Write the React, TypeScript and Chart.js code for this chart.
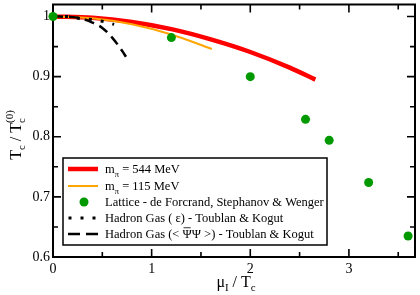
import React, { useEffect, useRef } from 'react';
import { Chart, registerables } from 'chart.js';
Chart.register(...registerables);

// ---- data ----
const RED_X = [0, 0.4, 0.8, 1.2, 1.6, 2.0, 2.4, 2.66];
const RED_Y = [1, 0.998, 0.991, 0.979, 0.962, 0.941, 0.915, 0.895];
const ORANGE_X = [0, 0.4, 0.8, 1.2, 1.61];
const ORANGE_Y = [1, 0.997, 0.987, 0.970, 0.946];
const LAT_X = [0, 1.2, 2.0, 2.56, 2.8, 3.2, 3.6];
const LAT_Y = [1, 0.965, 0.9, 0.829, 0.794, 0.724, 0.635];
const DOT_X = [0, 0.14, 0.26, 0.37, 0.5, 0.62];
const DOT_Y = [1, 1.0, 0.997, 0.9955, 0.992, 0.987];
const DASH_X = [0, 0.2, 0.3, 0.4, 0.5, 0.6, 0.7, 0.74];
const DASH_Y = [1, 0.999, 0.996, 0.99, 0.981, 0.965, 0.943, 0.933];

const X_LABEL_TICKS = [0, 1, 2, 3];
const Y_LABEL_TICKS = [0.6, 0.7, 0.8, 0.9, 1];
const X_MINOR = [0.5, 1.5, 2.5, 3.5];
const Y_MINOR = [0.65, 0.75, 0.85, 0.95];
const X_MIN = 0, X_MAX = 3.67, Y_MIN = 0.6, Y_MAX = 1.02;

const LEGEND_LABELS = [
  'm_{π} = 544 MeV',
  'm_{π} = 115 MeV',
  'Lattice - de Forcrand, Stephanov & Wenger',
  'Hadron Gas ( ε) - Toublan & Kogut',
  'Hadron Gas (< !{Ψ}Ψ >) - Toublan & Kogut',
];
const X_TITLE = 'μ_{I} / T_{c}';
const Y_TITLE = 'T_{c} / T_{c}^{(0)}';

const RED = '#ff0000';
const ORANGE = '#ffa500';
const GREEN = '#009a00';
const FONT = '"Liberation Serif", "Times New Roman", serif';

type Tok = { t: string; k: 'n' | 'sub' | 'sup' | 'ov' };
function parse(s: string): Tok[] {
  const out: Tok[] = [];
  let i = 0, buf = '';
  while (i < s.length) {
    const c = s[i];
    if ((c === '_' || c === '^' || c === '!') && s[i + 1] === '{') {
      if (buf) { out.push({ t: buf, k: 'n' }); buf = ''; }
      const end = s.indexOf('}', i);
      out.push({ t: s.slice(i + 2, end), k: c === '_' ? 'sub' : c === '^' ? 'sup' : 'ov' });
      i = end + 1;
    } else { buf += c; i++; }
  }
  if (buf) out.push({ t: buf, k: 'n' });
  return out;
}
function rich(ctx: CanvasRenderingContext2D, s: string, x: number, y: number, size: number, draw: boolean): number {
  const toks = parse(s);
  let cx = x;
  let lastSubStart = -1, lastSubW = 0;
  toks.forEach((tk, idx) => {
    if (tk.k === 'n' || tk.k === 'ov') {
      ctx.font = `${size}px ${FONT}`;
      const w = ctx.measureText(tk.t).width;
      if (draw) {
        ctx.fillText(tk.t, cx, y);
        if (tk.k === 'ov') {
          ctx.save();
          ctx.lineWidth = 0.8;
          ctx.beginPath();
          ctx.moveTo(cx + 1, y - size * 0.82);
          ctx.lineTo(cx + w - 1, y - size * 0.82);
          ctx.stroke();
          ctx.restore();
        }
      }
      cx += w;
    } else {
      const ss = size * 0.68;
      ctx.font = `${ss}px ${FONT}`;
      const w = ctx.measureText(tk.t).width;
      let sx = cx;
      if (tk.k === 'sup' && idx > 0 && toks[idx - 1].k === 'sub') {
        sx = lastSubStart;
        cx = lastSubStart;
      }
      const sy = tk.k === 'sub' ? y + size * 0.28 : y - size * 0.5;
      if (draw) ctx.fillText(tk.t, sx, sy);
      if (tk.k === 'sub') { lastSubStart = cx; lastSubW = w; cx += w; }
      else { cx = Math.max(sx + w, lastSubStart >= 0 ? lastSubStart + lastSubW : 0); }
    }
  });
  return cx - x;
}

const decor = {
  id: 'decor',
  beforeDatasetsDraw(chart: any) {
    const { ctx, chartArea: a, scales } = chart;
    const xs = scales.x, ys = scales.y;
    ctx.save();
    ctx.strokeStyle = '#000';
    ctx.lineWidth = 1.6;
    const tick = (vals: number[], len: number, isX: boolean) => {
      vals.forEach((v) => {
        if (isX) {
          const px = xs.getPixelForValue(v);
          ctx.beginPath();
          ctx.moveTo(px, a.bottom); ctx.lineTo(px, a.bottom - len);
          ctx.moveTo(px, a.top); ctx.lineTo(px, a.top + len);
          ctx.stroke();
        } else {
          const py = ys.getPixelForValue(v);
          ctx.beginPath();
          ctx.moveTo(a.left, py); ctx.lineTo(a.left + len, py);
          ctx.moveTo(a.right, py); ctx.lineTo(a.right - len, py);
          ctx.stroke();
        }
      });
    };
    tick(X_LABEL_TICKS, 8, true);
    tick(X_MINOR, 5, true);
    tick(Y_LABEL_TICKS, 8, false);
    tick(Y_MINOR, 5, false);
    ctx.lineWidth = 2;
    ctx.strokeRect(a.left, a.top, a.right - a.left, a.bottom - a.top);

    // axis titles
    ctx.fillStyle = '#000';
    ctx.textBaseline = 'alphabetic';
    ctx.textAlign = 'left';
    const ts = 16;
    const wx = rich(ctx, X_TITLE, 0, 0, ts, false);
    rich(ctx, X_TITLE, 236 - wx / 2, 287, ts, true);
    const wy = rich(ctx, Y_TITLE, 0, 0, ts, false);
    ctx.translate(21, 135);
    ctx.rotate(-Math.PI / 2);
    rich(ctx, Y_TITLE, -wy / 2, 0, ts, true);
    ctx.restore();
  },
  afterDatasetsDraw(chart: any) {
    const { ctx } = chart;
    ctx.save();
    const bx = 63, by = 158, bw = 264, bh = 87;
    ctx.fillStyle = '#fff';
    ctx.fillRect(bx, by, bw, bh);
    ctx.strokeStyle = '#000';
    ctx.lineWidth = 1.5;
    ctx.strokeRect(bx, by, bw, bh);
    const rows = [169, 186, 202, 218, 234];
    const x0 = 68, x1 = 98;
    ctx.lineCap = 'butt';
    ctx.strokeStyle = RED; ctx.lineWidth = 4.5;
    ctx.beginPath(); ctx.moveTo(x0, rows[0]); ctx.lineTo(x1, rows[0]); ctx.stroke();
    ctx.strokeStyle = ORANGE; ctx.lineWidth = 2;
    ctx.beginPath(); ctx.moveTo(x0, rows[1]); ctx.lineTo(x1, rows[1]); ctx.stroke();
    ctx.fillStyle = GREEN;
    ctx.beginPath(); ctx.arc(84, rows[2], 4.5, 0, Math.PI * 2); ctx.fill();
    ctx.fillStyle = '#000';
    [70, 82, 94].forEach((x) => ctx.fillRect(x - 1.5, rows[3] - 1.5, 3, 3));
    ctx.strokeStyle = '#000'; ctx.lineWidth = 2.5;
    ctx.beginPath();
    ctx.moveTo(68, rows[4]); ctx.lineTo(80, rows[4]);
    ctx.moveTo(86, rows[4]); ctx.lineTo(98, rows[4]);
    ctx.stroke();
    ctx.fillStyle = '#000';
    ctx.strokeStyle = '#000';
    ctx.textBaseline = 'alphabetic';
    ctx.textAlign = 'left';
    LEGEND_LABELS.forEach((lab, i) => rich(ctx, lab, 105, rows[i] + 4, 12.5, true));
    ctx.restore();
  },
};

function pts(xs: number[], ys: number[]) {
  return xs.map((x, i) => ({ x, y: ys[i] }));
}

export default function App() {
  const ref = useRef<HTMLCanvasElement>(null);
  useEffect(() => {
    if (!ref.current) return;
    const chart = new Chart(ref.current, {
      type: 'scatter',
      data: {
        datasets: [
          { label: 'lat', data: pts(LAT_X, LAT_Y), showLine: false, pointRadius: 4.5, pointBackgroundColor: GREEN, pointBorderWidth: 0, backgroundColor: GREEN, clip: false as any, order: 0 },
          { label: 'dash', data: pts(DASH_X, DASH_Y), showLine: true, borderColor: '#000', borderWidth: 2.5, borderDash: [10, 6], pointRadius: 0, cubicInterpolationMode: 'monotone', order: 1 },
          { label: 'dot', data: pts(DOT_X, DOT_Y), showLine: true, borderColor: '#000', borderWidth: 3, borderDash: [3, 9], pointRadius: 0, cubicInterpolationMode: 'monotone', order: 2 },
          { label: 'orange', data: pts(ORANGE_X, ORANGE_Y), showLine: true, borderColor: ORANGE, borderWidth: 2, pointRadius: 0, cubicInterpolationMode: 'monotone', order: 3 },
          { label: 'red', data: pts(RED_X, RED_Y), showLine: true, borderColor: RED, borderWidth: 4.5, pointRadius: 0, cubicInterpolationMode: 'monotone', order: 4 },
        ],
      },
      options: {
        animation: false,
        responsive: false,
        layout: { padding: { left: 0, right: 5, top: 2, bottom: 0 } },
        plugins: { legend: { display: false }, tooltip: { enabled: false } },
        scales: {
          x: {
            type: 'linear', min: X_MIN, max: X_MAX,
            grid: { display: false, drawTicks: false },
            border: { display: false },
            afterFit: (s: any) => { s.height = 38; s.paddingLeft = 0; s.paddingRight = 0; },
            afterBuildTicks: (s: any) => { s.ticks = X_LABEL_TICKS.map((v) => ({ value: v })); },
            ticks: { color: '#000', padding: 4, maxRotation: 0, font: { family: FONT, size: 14 }, callback: (v: any) => String(v) },
          },
          y: {
            type: 'linear', min: Y_MIN, max: Y_MAX,
            grid: { display: false, drawTicks: false },
            border: { display: false },
            afterFit: (s: any) => { s.width = 53; s.paddingTop = 0; s.paddingBottom = 0; },
            afterBuildTicks: (s: any) => { s.ticks = Y_LABEL_TICKS.map((v) => ({ value: v })); },
            ticks: { color: '#000', padding: 3, font: { family: FONT, size: 14 }, callback: (v: any) => (v === 1 ? '1' : Number(v).toFixed(1)) },
          },
        },
      },
      plugins: [decor],
    });
    return () => chart.destroy();
  }, []);
  return (
    <div style={{ position: 'absolute', left: 0, top: 0, width: 420, height: 295, background: '#fff' }}>
      <canvas ref={ref} width={420} height={295} style={{ display: 'block' }} />
    </div>
  );
}
